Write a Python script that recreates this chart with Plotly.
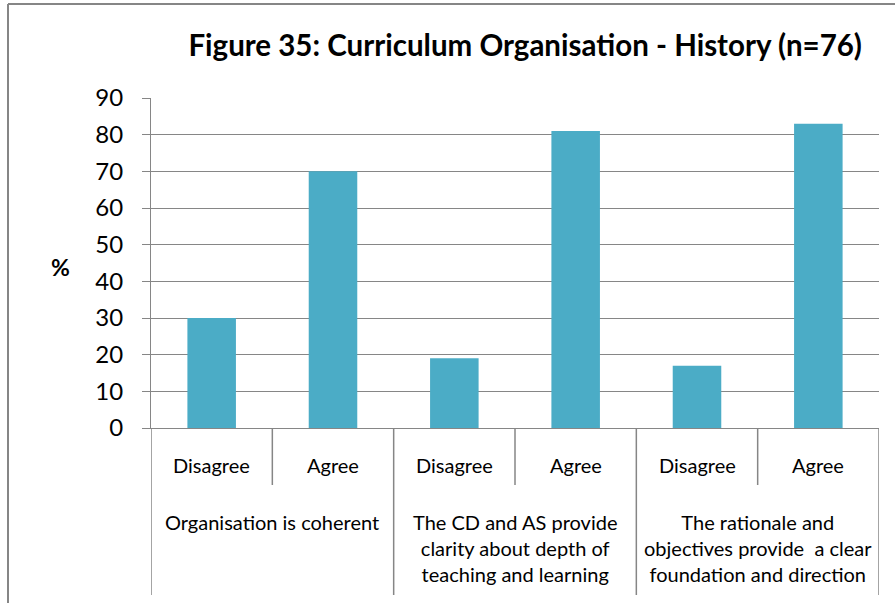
import plotly.graph_objects as go

# Survey responses (% of respondents), History teachers, n=76
statements = [
    "Organisation is coherent",
    "The CD and AS provide<br>clarity about depth of<br>teaching and learning",
    "The rationale and<br>objectives provide  a clear<br>foundation and direction",
]
responses = ["Disagree", "Agree"]
values = [30, 70, 19, 81, 17, 83]

y_ticks = list(range(0, 100, 10))

FONT = "Lato"
GRID = "#868686"
BAR = "#4BACC6"

# numeric x positions: one unit per response, two per statement
n_stat = len(statements)
n_resp = len(responses)
x_pos = [i + 0.5 for i in range(n_stat * n_resp)]
x_labels = responses * n_stat

fig = go.Figure(
    go.Bar(
        x=x_pos,
        y=values,
        width=0.4,
        marker=dict(color=BAR, line=dict(width=0)),
        hovertext=[f"{statements[i // n_resp].replace('<br>', ' ')} – {x_labels[i]}" for i in range(len(values))],
    )
)

fig.update_layout(
    width=895,
    height=603,
    margin=dict(l=151, r=16, t=98, b=175),
    paper_bgcolor="white",
    plot_bgcolor="white",
    showlegend=False,
    font=dict(family=FONT, color="black"),
    title=dict(
        text="<b>Figure 35: Curriculum Organisation - History (n=76)</b>",
        font=dict(family=FONT, size=29.5, color="black"),
        xref="paper",
        x=0.514,
        xanchor="center",
        yref="container",
        y=1 - 46 / 603,
        yanchor="middle",
    ),
)

fig.update_yaxes(
    range=[0, 90],
    tickvals=y_ticks,
    showgrid=True,
    gridcolor=GRID,
    gridwidth=1,
    zeroline=False,
    showline=True,
    linecolor=GRID,
    linewidth=1,
    ticks="outside",
    ticklen=8,
    tickcolor=GRID,
    tickfont=dict(family=FONT, size=24, color="black"),
    ticklabelstandoff=14,
)

fig.update_xaxes(
    range=[0, n_stat * n_resp],
    showticklabels=False,
    showgrid=False,
    zeroline=False,
    showline=True,
    linecolor=GRID,
    linewidth=1,
    ticks="",
)

shapes = []
# dividers between responses (short) and between statements (long)
for k in range(n_stat * n_resp + 1):
    long_line = k % n_resp == 0
    shapes.append(
        dict(
            type="line",
            xref="x",
            yref="paper",
            x0=k,
            x1=k,
            y0=0,
            y1=(428 - 595) / 330 if long_line else (428 - 485) / 330,
            line=dict(color=GRID, width=1.5),
        )
    )
# outer chart frame (left and top edges)
shapes.append(
    dict(type="line", xref="paper", yref="paper",
         x0=(8 - 151) / 728, x1=(8 - 151) / 728,
         y0=(428 - 4) / 330, y1=(428 - 610) / 330,
         line=dict(color=GRID, width=2))
)
shapes.append(
    dict(type="line", xref="paper", yref="paper",
         x0=(8 - 151) / 728, x1=(900 - 151) / 728,
         y0=(428 - 4) / 330, y1=(428 - 4) / 330,
         line=dict(color=GRID, width=2))
)

annotations = []
for xp, lab in zip(x_pos, x_labels):
    annotations.append(
        dict(x=xp, y=(428 - 465) / 330, xref="x", yref="paper", text=lab,
             showarrow=False, xanchor="center", yanchor="middle",
             font=dict(family=FONT, size=20, color="black"))
    )
for i, st in enumerate(statements):
    annotations.append(
        dict(x=i * n_resp + n_resp / 2, y=(428 - 508) / 330, xref="x", yref="paper",
             text=st, showarrow=False, xanchor="center", yanchor="top", align="center",
             font=dict(family=FONT, size=20, color="black"))
    )
annotations.append(
    dict(x=(60 - 151) / 728, y=(428 - 267) / 330, xref="paper", yref="paper",
         text="<b>%</b>", showarrow=False, xanchor="center", yanchor="middle",
         font=dict(family=FONT, size=23, color="black"))
)

fig.update_layout(shapes=shapes, annotations=annotations)

fig.write_html("out.html")
